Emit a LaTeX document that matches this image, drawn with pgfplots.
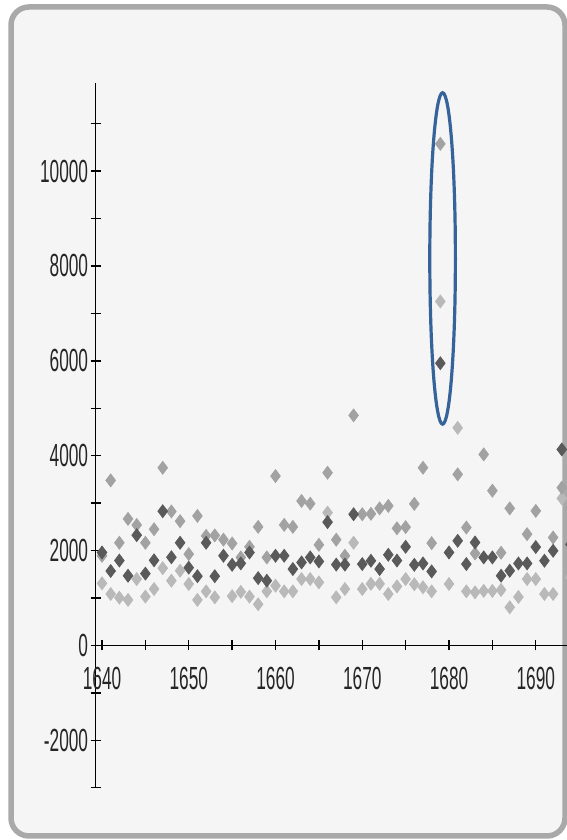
\documentclass[border=0pt]{standalone}
\usepackage{fontspec}
\setmainfont[FakeStretch=0.54]{Liberation Sans}
\usepackage{pgfplots}
\pgfplotsset{compat=1.18}
\definecolor{panelbg}{HTML}{F5F5F5}
\definecolor{panelborder}{HTML}{A9A9A9}
\definecolor{darkpt}{HTML}{5A5A5A}
\definecolor{medpt}{HTML}{A2A2A2}
\definecolor{lightpt}{HTML}{B9B9B9}
\definecolor{ellblue}{HTML}{36639A}
\begin{document}
\begin{tikzpicture}
\path[use as bounding box] (0pt,0pt) rectangle (283.5pt,420pt);
\begin{scope}
\clip (0pt,0pt) rectangle (283.5pt,420pt);
\fill[white] (0pt,0pt) rectangle (283.5pt,420pt);
\draw[line width=2.75pt, draw=panelborder, fill=panelbg, rounded corners=9pt] (5.5pt,2pt) rectangle (282.5pt,416.5pt);
\begin{axis}[
  at={(47.75pt,26.1pt)}, anchor=south west,
  scale only axis, width=235.75pt, height=352.25pt,
  xmin=1639.25, xmax=1693.6, ymin=-3000, ymax=11850,
  axis lines=middle, axis line style={-, black, line width=0.75pt},
  hide obscured x ticks=false, hide obscured y ticks=false,
  xtick={1640,1650,1660,1670,1680,1690},
  xticklabels={1640,1650,1660,1670,1680,1690},
  minor xtick={1645,1655,1665,1675,1685},
  ytick={-2000,0,2000,4000,6000,8000,10000},
  yticklabels={-2000,0,2000,4000,6000,8000,10000},
  minor ytick={-3000,-1000,1000,3000,5000,7000,9000,11000},
  scaled ticks=false,
  xtick align=center, ytick align=center,
  major tick length=5pt, minor tick length=5pt,
  every tick/.style={black, line width=0.7pt},
  tick label style={font=\fontsize{16}{16}\selectfont, text=black!85},
  xticklabel style={anchor=north, inner sep=0pt, yshift=-8pt},
  yticklabel style={anchor=east, inner sep=0pt, xshift=-1pt},
  clip=false,
]
\addplot[only marks, mark=diamond*, mark size=3.2pt, color=lightpt] coordinates {
(1640,1310) (1641,1085) (1642,1008) (1643,960) (1644,1400) (1645,1030) (1646,1190)
(1647,1630) (1648,1366) (1649,1576) (1650,1296) (1651,960) (1652,1141) (1653,1015)
(1655,1040) (1656,1130) (1657,1030) (1658,868) (1659,1141) (1660,1260) (1661,1141)
(1662,1141) (1663,1400) (1664,1400) (1665,1330) (1666,2800) (1667,1015) (1668,1190)
(1669,2165) (1670,1190) (1671,1300) (1672,1300) (1673,1085) (1674,1245) (1675,1400)
(1676,1290) (1677,1226) (1678,1141) (1679,7250) (1680,1296) (1681,4587) (1682,1141)
(1683,1120) (1684,1150) (1685,1150) (1686,1170) (1687,805) (1688,1022) (1689,1400)
(1690,1400) (1691,1085) (1692,1085) (1693,3100) (1694,1435)
};
\addplot[only marks, mark=diamond*, mark size=3.2pt, color=medpt] coordinates {
(1640,1890) (1641,3480) (1642,2165) (1643,2668) (1644,2540) (1645,2165) (1646,2450)
(1647,3746) (1648,2825) (1649,2620) (1650,1926) (1651,2731) (1652,2311) (1653,2320)
(1654,2230) (1655,2150) (1656,1856) (1657,2080) (1658,2500) (1659,1856) (1660,3571)
(1661,2542) (1662,2500) (1663,3046) (1664,2990) (1665,2122) (1666,3641) (1667,2230)
(1668,1891) (1669,4850) (1670,2766) (1671,2775) (1672,2890) (1673,2941) (1674,2470)
(1675,2495) (1676,2985) (1677,3746) (1678,2157) (1679,10574) (1681,3607) (1682,2486)
(1683,1940) (1684,4027) (1685,3263) (1686,1955) (1687,2890) (1689,2346) (1690,2836)
(1692,2276) (1693,3326) (1694,2906)
};
\addplot[only marks, mark=diamond*, mark size=3.2pt, color=darkpt] coordinates {
(1640,1960) (1641,1570) (1642,1790) (1643,1470) (1644,2325) (1645,1515) (1646,1795)
(1647,2830) (1648,1860) (1649,2165) (1650,1640) (1651,1460) (1652,2165) (1653,1460)
(1654,1891) (1655,1700) (1656,1730) (1657,1960) (1658,1420) (1659,1365) (1660,1891)
(1661,1891) (1662,1611) (1663,1750) (1664,1856) (1665,1771) (1666,2600) (1667,1705)
(1668,1705) (1669,2766) (1670,1716) (1671,1786) (1672,1611) (1673,1912) (1674,1790)
(1675,2080) (1676,1700) (1677,1729) (1678,1561) (1679,5950) (1680,1960) (1681,2206)
(1682,1716) (1683,2171) (1684,1856) (1685,1856) (1686,1470) (1687,1576) (1688,1729)
(1689,1729) (1690,2075) (1691,1786) (1692,1996) (1693,4132) (1694,2130)
};
\draw[ellblue, line width=1.6pt] (axis cs:1679.26,8158) ellipse [x radius=6.4pt, y radius=82.85pt];
\end{axis}
\end{scope}
\end{tikzpicture}
\end{document}
